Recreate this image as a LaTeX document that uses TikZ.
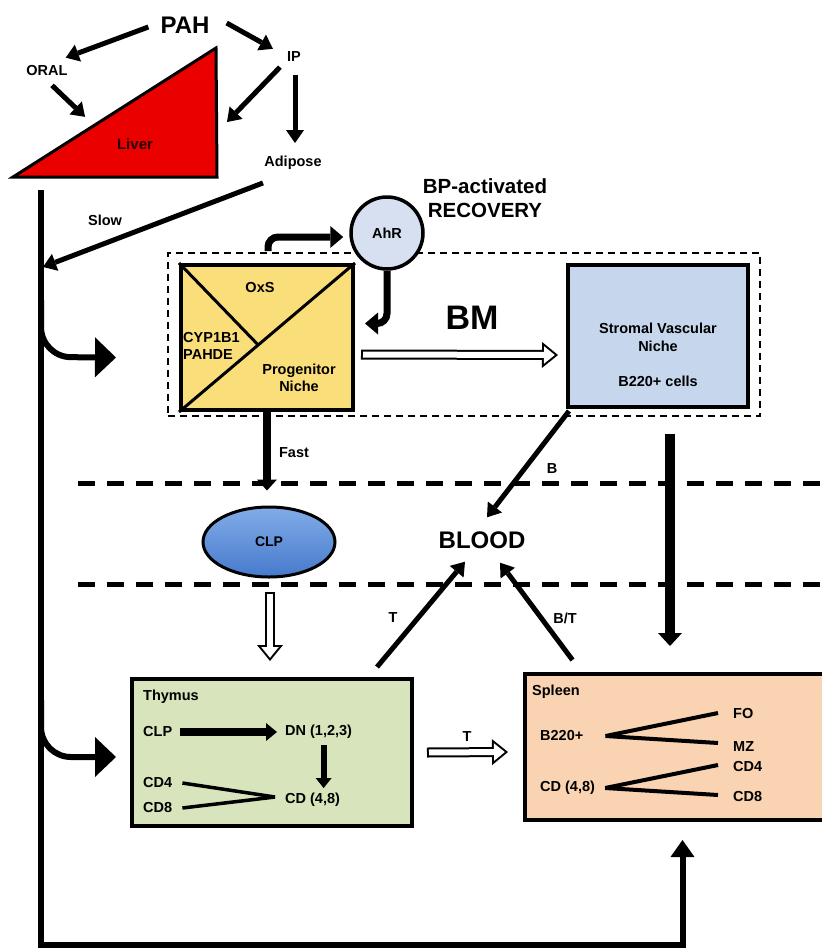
\documentclass[tikz,border=0pt]{standalone}
\usepackage{fontspec}
\setmainfont{Liberation Sans}
\usetikzlibrary{arrows.meta,calc,shapes.geometric}

\definecolor{liverred}{RGB}{235,0,0}
\definecolor{progyellow}{RGB}{250,222,122}
\definecolor{svnblue}{RGB}{198,214,236}
\definecolor{ahrblue}{RGB}{214,224,240}
\definecolor{clptop}{RGB}{130,172,232}
\definecolor{clpbot}{RGB}{70,122,204}
\definecolor{thygreen}{RGB}{215,228,188}
\definecolor{splpeach}{RGB}{250,212,178}

\tikzset{
  lbl/.style={font=\fontsize{14.5}{17}\selectfont\bfseries, inner sep=0pt},
  arr/.style={line width=5pt, -{Triangle[length=13pt,width=18pt,line width=0pt]}},
  bent/.style={line width=7pt, rounded corners=10pt, -{Triangle[length=13pt,width=22pt,line width=0pt]}},
  branch/.style={line width=6pt, rounded corners=30pt, -{Triangle[length=21pt,width=40pt,line width=0pt]}},
  box/.style={draw, line width=4pt, inner sep=0pt},
  sepline/.style={line width=5pt, dash pattern=on 17pt off 12pt},
}

% hollow (white) arrow: black outline drawn under a white core
\newcommand{\hollowarrow}[2]{%
  \draw[line width=10pt, -{Triangle[length=16pt,width=26pt,line width=0pt]}] #1 -- #2;
  \draw[white, line width=6pt, shorten <=2pt, shorten >=3.2pt,
        -{Triangle[length=10.8pt,width=17.5pt,line width=0pt]}] #1 -- #2;
}

\begin{document}
\begin{tikzpicture}[x=1pt, y=-1pt]
  \useasboundingbox (0,0) rectangle (822,951);

  % blood compartment borders
  \draw[sepline] (78,483) -- (822,483);
  \draw[sepline] (78,584) -- (822,584);

  % exposure routes and liver
  \coordinate (tri1) at (13,177);
  \coordinate (tri2) at (217,177);
  \coordinate (tri3) at (216,48);
  \filldraw[fill=liverred, line width=3pt] (tri1) -- (tri2) -- (tri3) -- cycle;
  \node[lbl, font=\fontsize{15}{17}\selectfont\bfseries, text=black!85!red] (liver) at (135,144) {Liver};

  \node[font=\fontsize{24}{28}\selectfont\bfseries, inner sep=0pt] (pah) at (185,25) {PAH};
  \node[lbl] (oral) at (47,71) {ORAL};
  \node[lbl] (ip) at (294,57) {IP};
  \node[lbl] (adipose) at (293,163) {Adipose};
  \node[lbl] (slow) at (105,220) {Slow};

  \draw[arr] ($(pah.west)+(-12,2)$) -- ($(oral.north east)+(-2,-8)$);
  \draw[arr] ($(pah.east)+(17,-2)$) -- ($(ip.north west)+(-14,-3)$);
  \draw[arr] ($(oral.south)+(5,9)$) -- ($(tri1)!0.35!(tri3)+(1,-15)$);
  \draw[arr] ($(ip.south west)+(-7,5)$) -- ($(tri3)+(11,74)$);
  \draw[arr] ($(ip.south)+(1,13)$) -- ($(adipose.north)+(2,-13)$);

  % main circulation line
  \coordinate (trunktop) at (41,190);
  \coordinate (slowin) at (43,267);
  \coordinate (bmfork) at (41,300);
  \coordinate (thyfork) at (41,700);
  \draw[arr] ($(adipose.south)+(-30,13)$) -- (slowin);

  % bone marrow
  \node[draw, line width=2pt, dash pattern=on 7pt off 5pt,
        minimum width=592pt, minimum height=163pt] (bmzone) at (464,334.5) {};
  \node[box, fill=progyellow, minimum width=172pt, minimum height=145pt] (prog) at (267,337.5) {};
  \draw[line width=3pt] (prog.south west) -- (prog.north east);
  \draw[line width=3pt] (prog.north west) -- ($(prog.south west)!0.45!(prog.north east)$);
  \node[lbl] (oxs) at (260,288) {OxS};
  \node[lbl, anchor=west, align=left] (cyp) at (183,346) {CYP1B1\\PAHDE};
  \node[lbl, align=center] (prog-lbl) at (299,378) {Progenitor\\Niche};

  \node[circle, draw, line width=3.5pt, fill=ahrblue, minimum size=72pt, inner sep=0pt,
        font=\fontsize{14.5}{17}\selectfont\bfseries] (ahr) at (387,233) {AhR};
  \node[font=\fontsize{20.5}{24}\selectfont\bfseries, align=center, inner sep=0pt] (recov) at (485,198) {BP-activated\\RECOVERY};
  \draw[bent] ($(prog.north)+(1,-12)$) |- ($(ahr.west)+(-6,4)$);
  \draw[bent] (ahr.south) |- ($(prog.east)+(10,-14)$);

  \node[font=\fontsize{34}{40}\selectfont\bfseries, inner sep=0pt] (bm) at (472,318) {BM};

  \node[box, fill=svnblue, minimum width=180pt, minimum height=142pt] (svn) at (658,336) {};
  \node[lbl, align=center, font=\fontsize{14.5}{18}\selectfont\bfseries] (svn-lbl) at (658,355) {Stromal Vascular\\Niche\\[17pt]B220+ cells};

  \hollowarrow{($(prog.east)+(6,17)$)}{($(svn.west)+(-8,19)$)}

  % blood
  \node[ellipse, draw, line width=3pt, top color=clptop, bottom color=clpbot,
        minimum width=132pt, minimum height=70pt, inner sep=0pt,
        font=\fontsize{14}{16}\selectfont\bfseries] (clp) at (269,542) {CLP};
  \node[font=\fontsize{24}{28}\selectfont\bfseries, inner sep=0pt] (blood) at (482,540) {BLOOD};

  \draw[line width=8pt, -{Triangle[length=11pt,width=20pt,line width=0pt]}] (prog.south) -- ($(clp.north)+(-2,-15)$);
  \node[lbl] (fast) at (294,453) {Fast};

  % thymus
  \node[box, fill=thygreen, minimum width=280pt, minimum height=147pt] (thy) at (272,752.5) {};
  \node[lbl, anchor=west] (thy-lbl) at (143,697) {Thymus};
  \node[lbl, anchor=west] (t-clp) at (143,731) {CLP};
  \node[lbl, anchor=west] (dn) at (285,732) {DN (1,2,3)};
  \node[lbl, anchor=west] (cd48) at (285,800) {CD (4,8)};
  \node[lbl, anchor=west] (t-cd4) at (143,782) {CD4};
  \node[lbl, anchor=west] (t-cd8) at (143,807) {CD8};
  \draw[line width=8pt, -{Triangle[length=11pt,width=18pt,line width=0pt]}] ($(t-clp.east)+(8,1)$) -- ($(dn.west)+(-8,0)$);
  \draw[line width=6pt, -{Triangle[length=10pt,width=16pt,line width=0pt]}] ($(dn.south)+(5,6)$) -- ($(dn.south |- cd48.north)+(5,-5)$);
  \draw[line width=3.5pt] ($(t-cd4.east)+(10,1)$) -- ($(cd48.west)+(-10,-3)$);
  \draw[line width=3.5pt] ($(t-cd8.east)+(10,1)$) -- ($(cd48.west)+(-10,-3)$);

  % spleen
  \node[box, fill=splpeach, minimum width=305pt, minimum height=146pt] (spl) at (677.5,747) {};
  \node[lbl, anchor=west] (spl-lbl) at (532,692) {Spleen};
  \node[lbl, anchor=west] (b220) at (540,735) {B220+};
  \node[lbl, anchor=west] (fo) at (733,713) {FO};
  \node[lbl, anchor=west] (mz) at (733,747) {MZ};
  \node[lbl, anchor=west] (s-cd48) at (540,788) {CD (4,8)};
  \node[lbl, anchor=west] (s-cd4) at (733,766) {CD4};
  \node[lbl, anchor=west] (s-cd8) at (733,796) {CD8};
  \draw[line width=4pt] ($(b220.east)+(22,1)$) -- ($(fo.west)+(-15,0)$);
  \draw[line width=4pt] ($(b220.east)+(22,1)$) -- ($(mz.west)+(-15,-4)$);
  \draw[line width=4pt] ($(s-cd48.east)+(10,0)$) -- ($(s-cd4.west)+(-15,-1)$);
  \draw[line width=4pt] ($(s-cd48.east)+(10,0)$) -- ($(s-cd8.west)+(-15,-1)$);

  % migration between compartments
  \hollowarrow{($(clp.south)+(1,13)$)}{($(thy.north)+(-2,-16)$)}
  \hollowarrow{($(thy.east)+(13,0)$)}{($(spl.west)+(-15,5)$)}
  \node[lbl] (thy-spl) at (467,737) {T};

  \draw[arr] ($(svn.south west)+(3,2)$) -- ($(blood.north)+(5,-14)$);
  \draw[arr] ($(thy.north)+(105,-10)$) -- ($(blood.south)+(-17,13)$);
  \draw[arr] ($(spl.north)+(-105,-12)$) -- ($(blood.south)+(18,14)$);
  \node[lbl] (b-lbl) at (552,469) {B};
  \node[lbl] (t-lbl) at (393,618) {T};
  \node[lbl] (bt-lbl) at (565,618) {B/T};
  \draw[line width=10pt, -{Triangle[length=13pt,width=24pt,line width=0pt]}] ($(svn.south)+(12,25)$) -- ($(spl.north)+(-7.5,-26)$);

  % circulation to bone marrow, thymus and spleen
  \draw[line width=6pt, -{Triangle[length=17pt,width=24pt,line width=0pt]}] (trunktop) |- ($(spl.south)+(5,123)$) -- ($(spl.south)+(5,18)$);
  \draw[branch] (bmfork) -- (41,357) -- ($(prog.west)+(-63,20)$);
  \draw[branch] (thyfork) -- (41,757) -- ($(thy.west)+(-14,4.5)$);
\end{tikzpicture}
\end{document}
